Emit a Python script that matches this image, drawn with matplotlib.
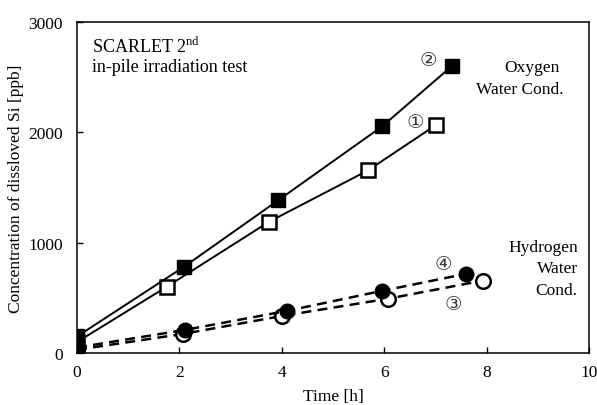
import matplotlib
matplotlib.use("Agg")
import matplotlib.pyplot as plt

plt.rcParams['font.family'] = ['Liberation Serif', 'DejaVu Sans']
plt.rcParams['mathtext.fontset'] = 'custom'
plt.rcParams['mathtext.rm'] = 'Liberation Serif'

# Oxygen water condition (squares)
t_ox1 = [0.0, 1.75, 3.75, 5.68, 7.02]
si_ox1 = [100, 600, 1190, 1655, 2070]
t_ox2 = [0.0, 2.09, 3.93, 5.96, 7.33]
si_ox2 = [150, 782, 1385, 2055, 2605]

# Hydrogen water condition (circles)
t_h3 = [0.0, 2.07, 4.0, 6.08, 7.92]
si_h3 = [30, 173, 336, 493, 656]
t_h4 = [0.0, 2.1, 4.1, 5.96, 7.6]
si_h4 = [50, 209, 382, 564, 718]

FS = 12.5

fig = plt.figure(figsize=(5.97, 4.06), dpi=100)
ax = fig.add_axes([0.129, 0.128, 0.8576, 0.815])

ax.plot(t_ox1, si_ox1, '-', color='k', lw=1.4, marker='s', ms=10.5,
        mfc='white', mec='k', mew=1.8, zorder=3)
ax.plot(t_ox2, si_ox2, '-', color='k', lw=1.4, marker='s', ms=10.5,
        mfc='k', mec='k', zorder=3)
ax.plot(t_h3, si_h3, '--', color='k', lw=1.8, dashes=(4, 2.5), marker='o',
        ms=10.5, mfc='white', mec='k', mew=1.8, zorder=3)
ax.plot(t_h4, si_h4, '--', color='k', lw=1.8, dashes=(4, 2.5), marker='o',
        ms=10.5, mfc='k', mec='k', zorder=4)

ax.set_xlim(0, 10)
ax.set_ylim(0, 3000)
ax.set_xticks([0, 2, 4, 6, 8, 10])
ax.set_yticks([0, 1000, 2000, 3000])
ax.tick_params(direction='in', length=4, width=1, labelsize=FS)
ax.tick_params(axis='x', pad=8)
ax.tick_params(axis='y', pad=10)
for s in ax.spines.values():
    s.set_linewidth(1.1)

ax.set_xlabel("Time [h]", fontsize=FS, labelpad=6)
ax.set_ylabel("Concentration of dissloved Si [ppb]", fontsize=FS, labelpad=3)

ax.text(0.3, 2780, r"SCARLET 2$^{\rm nd}$", fontsize=13, va='center')
ax.text(0.3, 2600, "in-pile irradiation test", fontsize=13, va='center')

# circled series numbers
num_kw = dict(fontsize=14, ha='center', va='center', color='#333333',
              family=['DejaVu Sans'])
ax.text(6.86, 2660, "\u2461", **num_kw)
ax.text(6.6, 2100, "\u2460", **num_kw)
ax.text(7.15, 815, "\u2463", **num_kw)
ax.text(7.34, 445, "\u2462", **num_kw)

ax.text(8.88, 2595, "Oxygen", fontsize=FS, ha='center', va='center')
ax.text(8.65, 2395, "Water Cond.", fontsize=FS, ha='center', va='center')

ax.text(9.78, 960, "Hydrogen", fontsize=FS, ha='right', va='center')
ax.text(9.78, 770, "Water", fontsize=FS, ha='right', va='center')
ax.text(9.78, 570, "Cond.", fontsize=FS, ha='right', va='center')

fig.savefig("out.png", dpi=100)
